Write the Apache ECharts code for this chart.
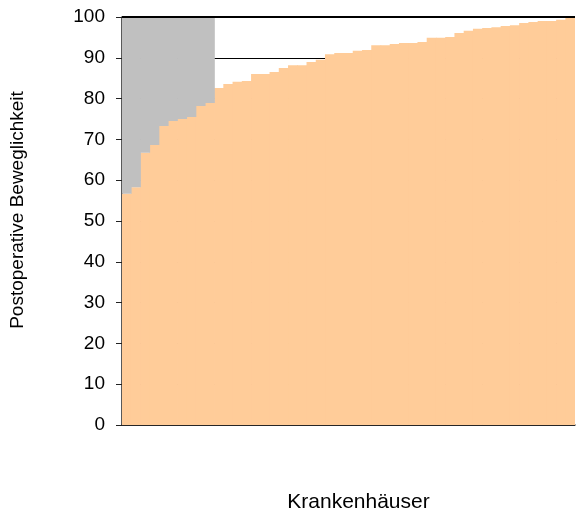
<!DOCTYPE html>
<html><head><meta charset="utf-8">
<script src="https://cdn.jsdelivr.net/npm/echarts@6/dist/echarts.min.js"></script>
<style>html,body{margin:0;padding:0;background:#fff}#c{width:576px;height:511px}</style>
</head><body><div id="c"></div>
<script>
const categories = Array.from({length: 49}, (_, i) => 'K' + (i + 1));
const values = [56.7, 58.3, 66.7, 68.6, 73.3, 74.5, 75.0, 75.5, 78.2, 78.9,
  82.6, 83.6, 84.1, 84.3, 86.0, 86.0, 86.5, 87.5, 88.2, 88.2, 89.0, 89.5, 90.9,
  91.2, 91.2, 91.7, 91.9, 93.1, 93.1, 93.4, 93.6, 93.6, 93.9, 94.9, 94.9, 95.1,
  96.1, 96.6, 97.1, 97.3, 97.5, 97.8, 98.0, 98.5, 98.8, 99.0, 99.0, 99.3, 100.0];
const grayCount = 10;
const gaps = values.map((v, i) => i < grayCount ? +(100 - v).toFixed(1) : 0);
const yTicks = [0, 10, 20, 30, 40, 50, 60, 70, 80, 90, 100];

const chart = echarts.init(document.getElementById('c'));
const font = 'Liberation Sans, Arial, sans-serif';
chart.setOption({
  animation: false,
  grid: {left: 122, right: 1, top: 17, bottom: 86, containLabel: false, outerBoundsMode: 'none'},
  xAxis: {
    type: 'category', data: categories,
    axisLine: {lineStyle: {color: '#333', width: 1.5}},
    axisTick: {show: false}, axisLabel: {show: false},
    name: 'Krankenhäuser', nameLocation: 'middle', nameGap: 67,
    nameTextStyle: {fontFamily: font, fontSize: 21, color: '#000', padding: [0, 0, 0, 20]}
  },
  yAxis: {
    type: 'value', min: yTicks[0], max: yTicks[yTicks.length - 1], interval: 10,
    axisLine: {show: true, lineStyle: {color: '#222', width: 1.5}},
    axisTick: {show: true, length: 6, inside: false, lineStyle: {color: '#222'}},
    axisLabel: {fontFamily: font, fontSize: 19, color: '#000', margin: 17},
    splitLine: {show: true, lineStyle: {color: '#000', width: 1}},
    name: 'Postoperative Beweglichkeit', nameLocation: 'middle', nameGap: 95,
    nameTextStyle: {fontFamily: font, fontSize: 19, color: '#000', padding: [0, 0, 0, 22]}
  },
  series: [
    {type: 'bar', stack: 's', data: values, barWidth: 10, barGap: 0,
     itemStyle: {color: '#FFCC99'}},
    {type: 'bar', stack: 's', data: gaps, barWidth: 10, barGap: 0,
     itemStyle: {color: '#C0C0C0'},
     markLine: {silent: true, symbol: 'none', label: {show: false},
       lineStyle: {color: '#000', width: 2, type: 'solid'},
       data: [{yAxis: 100}]}}
  ]
});
</script></body></html>
